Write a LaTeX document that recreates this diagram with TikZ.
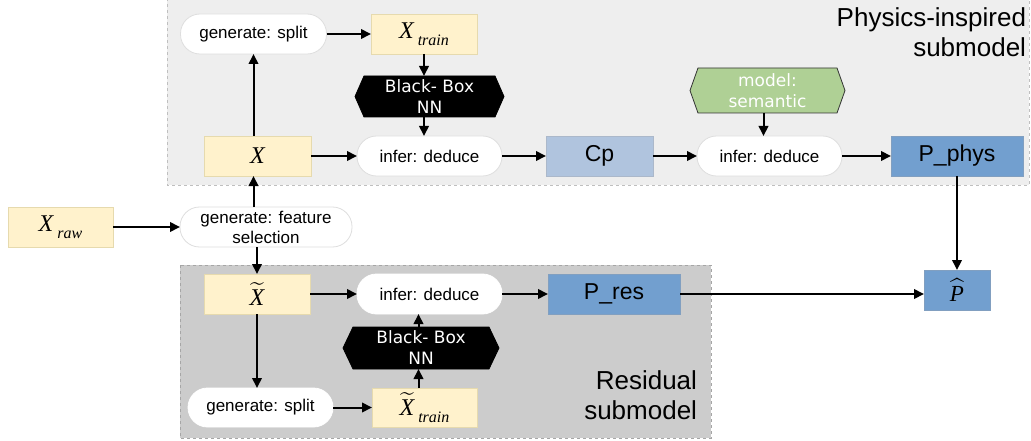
\documentclass[tikz,border=0pt]{standalone}
\usepackage{amsmath}
\usepackage{fontspec}
\setmainfont{Liberation Sans}
\newfontfamily\dejavu{DejaVu Sans}
\newfontfamily\timesf{Liberation Serif}
\usetikzlibrary{arrows.meta,calc,backgrounds}
\definecolor{yel}{HTML}{FFF2CC}
\definecolor{yelb}{HTML}{E6DAAE}
\definecolor{lsb}{HTML}{B0C4DE}
\definecolor{blu}{HTML}{729FCF}
\definecolor{grn}{HTML}{AFD095}
\definecolor{pan1}{HTML}{EEEEEE}
\definecolor{pan2}{HTML}{CCCCCC}
\newcommand{\mx}[1]{\text{\timesf\itshape #1}}
\newcommand{\sub}[1]{\,\raisebox{-7pt}{\fontsize{16}{16}\selectfont\timesf\itshape #1}}
\begin{document}
\begin{tikzpicture}[x=1pt,y=-1pt,
  every node/.style={inner sep=0pt,outer sep=0pt},
  pill/.style={draw=#1,fill=white,rounded corners=19.5pt,line width=0.8pt,
    minimum height=40pt,align=center,font=\fontsize{17}{20}\selectfont},
  pill/.default={black!13},
  ybox/.style={draw=yelb,fill=yel,line width=0.8pt,minimum height=40pt,
    font=\fontsize{24}{24}\selectfont},
  bbox/.style={fill=#1,draw=#1!85!black!80,line width=0.6pt,minimum height=40pt,
    font=\fontsize{23}{23}\selectfont},
  hexbox/.style={align=center,text=white,font=\dejavu\fontsize{17}{21}\selectfont},
  arr/.style={line width=2pt,-{Triangle[length=10pt,width=9.5pt]}},
  title/.style={align=right,font=\fontsize{26}{30}\selectfont,anchor=north east}
]
\useasboundingbox (0,0) rectangle (1031,441);

% nodes
\node[pill,minimum width=146pt] (gsplit1) at (253.5,34) {generate: split};
\node[ybox,minimum width=106pt] (xtrain) at (424,34) {$\mx{X}$\sub{train}};
\node[hexbox,minimum width=149pt,minimum height=41pt] (bb1) at (429.5,96.5) {Black- Box\\NN};
\node[ybox,minimum width=107pt] (X) at (257.5,156) {$\mx{X}$};
\node[pill,minimum width=145pt] (inf1) at (429.5,156) {infer: deduce};
\node[bbox=lsb,minimum width=107pt] (cp) at (599.5,156) {Cp};
\node[hexbox,minimum width=155pt,minimum height=45pt] (sem) at (767.5,90.5) {model:\\semantic};
\node[pill,minimum width=145pt] (inf2) at (769.5,156) {infer: deduce};
\node[bbox=blu,minimum width=132pt] (pphys) at (957,156) {P\_phys};
\node[ybox,minimum width=105pt] (xraw) at (60.5,227) {$\mx{X}$\sub{raw}};
\node[pill,minimum width=172pt] (gfeat) at (266,227) {generate: feature\\selection};
\node[ybox,minimum width=106pt] (xt) at (257,294) {$\widetilde{\mx{X}}$};
\node[pill=white,minimum width=145pt] (inf3) at (429.5,294) {infer: deduce};
\node[bbox=blu,minimum width=132pt] (pres) at (614,294) {P\_res};
\node[hexbox,minimum width=156pt,minimum height=42pt] (bb2) at (421,348) {Black- Box\\NN};
\node[pill=white,minimum width=145pt,minimum height=39pt] (gsplit2) at (260.5,407.5) {generate: split};
\node[ybox,minimum width=105pt,minimum height=39pt] (xttrain) at (424.5,407.5) {$\widetilde{\mx{X}}$\sub{train}};
\node[bbox=blu,minimum width=66pt] (phat) at (957,290) {$\widehat{\mx{P}}$};

\node[title] (t1) at (1026,8) {Physics-inspired\\submodel};
\node[title] (t2) at (697,371) {Residual\\submodel};

% background panels and hexagons
\begin{scope}[on background layer]
  \draw[fill=pan1,draw=black!25,dashed,line width=0.8pt] (167,-2) rectangle (1029,185);
  \draw[fill=pan2,draw=black!35,dashed,line width=0.8pt] (180,265) rectangle (711,438);
  \foreach \n/\c/\f/\d in {bb1/9/black/black, bb2/10/black/black, sem/8/grn/black!80} {
    \draw[fill=\f,draw=\d,line width=0.8pt]
      (\n.west) -- ($(\n.north west)+(\c,0)$) -- ($(\n.north east)+(-\c,0)$) --
      (\n.east) -- ($(\n.south east)+(-\c,0)$) -- ($(\n.south west)+(\c,0)$) -- cycle;
  }
\end{scope}

% connectors
\draw[arr] (X.north -| gsplit1.south) -- (gsplit1.south);
\draw[arr] (gsplit1) -- (xtrain);
\draw[arr] (xtrain) -- (bb1.north -| xtrain);
\draw[arr] (bb1.south -| xtrain) -- (inf1.north -| xtrain);
\draw[arr] (X) -- (inf1);
\draw[arr] (inf1) -- (cp);
\draw[arr] (cp) -- (inf2);
\draw[arr] ($(sem.south)+(-4,0)$) -- ($(inf2.north -| sem)+(-4,0)$);
\draw[arr] (inf2) -- (pphys);
\draw[arr] (pphys) -- (phat);
\draw[arr] (xraw) -- (gfeat);
\draw[arr] (gfeat.north -| gsplit1) -- (X.south -| gsplit1);
\draw[arr] (gfeat.south -| xt) -- (xt.north);
\draw[arr] (xt) -- (inf3);
\draw[arr] (xt.south) -- (gsplit2.north -| xt);
\draw[arr] (gsplit2) -- (xttrain);
\draw[arr] ($(xttrain.north)+(-6,0)$) -- ($(bb2.south -| xttrain)+(-6,0)$);
\draw[arr] ($(bb2.north -| xttrain)+(-6,0)$) -- ($(inf3.south -| xttrain)+(-6,0)$);
\draw[arr] (inf3) -- (pres);
\draw[arr] (pres) -- (phat.west |- pres);
\end{tikzpicture}
\end{document}
